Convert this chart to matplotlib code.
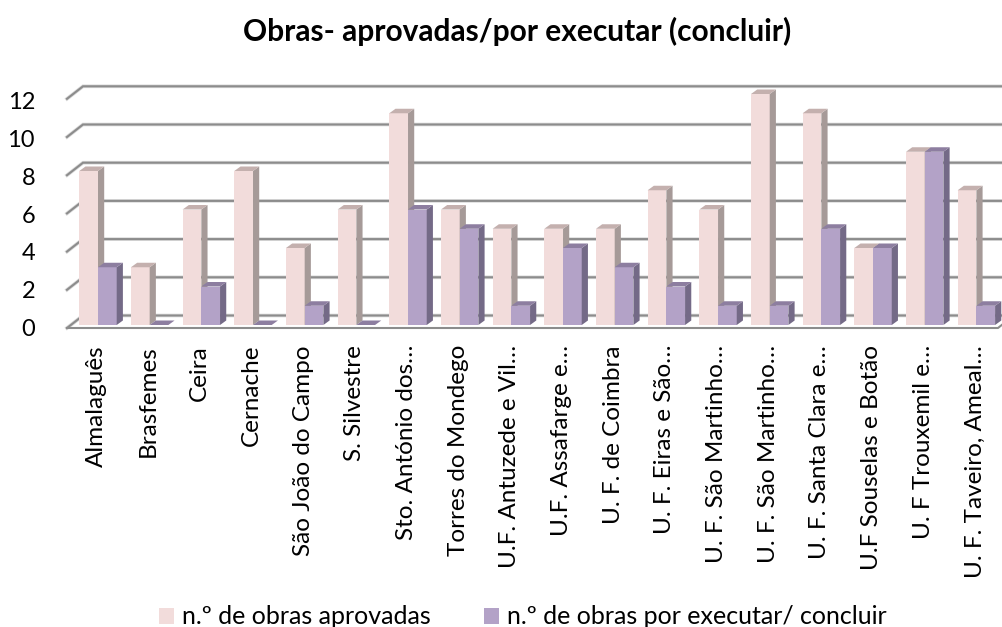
import matplotlib.pyplot as plt
from matplotlib.patches import Polygon, Patch

categorias = ['Almalaguês', 'Brasfemes', 'Ceira', 'Cernache', 'São João do Campo', 'S. Silvestre',
              'Sto. António dos…', 'Torres do Mondego', 'U.F. Antuzede e Vil…', 'U.F. Assafarge e…',
              'U. F. de Coimbra', 'U. F. Eiras e São…', 'U. F. São Martinho…', 'U. F. São Martinho…',
              'U. F. Santa Clara e…', 'U.F Souselas e Botão', 'U. F Trouxemil e…', 'U. F. Taveiro, Ameal…']
aprovadas = [8, 3, 6, 8, 4, 6, 11, 6, 5, 5, 5, 7, 6, 12, 11, 4, 9, 7]
por_executar = [3, 0, 2, 0, 1, 0, 6, 5, 1, 4, 3, 2, 1, 1, 5, 4, 9, 1]
yticks = [0, 2, 4, 6, 8, 10, 12]

plt.rcParams['font.family'] = ['Lato', 'DejaVu Sans']

W, H = 1003, 627
PX_CAT = 51.67   # pixels per category
PX_VAL = 19.25   # pixels per unit
X0, Y0 = 79.3, 325.0

def dx(p):
    return p / PX_CAT

def dy(p):
    return p / PX_VAL

fig = plt.figure(figsize=(W / 100, H / 100), dpi=100, facecolor='white')
ax = fig.add_axes([0, 0, 1, 1])
ax.set_xlim(-X0 / PX_CAT, (W - X0) / PX_CAT)
ax.set_ylim((Y0 - H) / PX_VAL, Y0 / PX_VAL)
ax.axis('off')

grid = '#8c8c8c'
left = dx(67 - X0)
back = dx(83 - X0)
right = dx(W - X0)
floor = dy(-3)
for v in yticks:
    y_front = floor + v * 19.1 / PX_VAL
    y_back = y_front + dy(12.5)
    ax.plot([left, back, right], [y_front, y_back, y_back], color='#d9d9d9', lw=2.6,
            solid_joinstyle='miter', zorder=1)
    ax.plot([left, back, right], [y_front, y_back, y_back], color=grid, lw=1.5,
            solid_joinstyle='miter', zorder=1.1)
    ax.text(dx(35 - X0), dy(-2.5) + v * 18.9 / PX_VAL, str(v), ha='right', va='center_baseline',
            fontsize=17, color='black')
# linha da frente do chao
ax.plot([left, dx(998 - X0), right], [floor, floor, floor + dy(4)], color=grid, lw=1.5, zorder=1.1)

bar_w = 18.7 / PX_CAT
ddx = dx(6.2)
ddy = dy(4.5)

def bar3d(x, v, front, side, top, z):
    ax.bar(x, v, bar_w, align='edge', color=front, zorder=z)
    ax.add_patch(Polygon([(x + bar_w, 0), (x + bar_w + ddx, ddy), (x + bar_w + ddx, v + ddy), (x + bar_w, v)],
                         closed=True, fc=side, ec='none', zorder=z))
    ax.add_patch(Polygon([(x, v), (x + ddx, v + ddy), (x + bar_w + ddx, v + ddy), (x + bar_w, v)],
                         closed=True, fc=top, ec='none', zorder=z))

for i, (a, b) in enumerate(zip(aprovadas, por_executar)):
    z = 2 + i
    bar3d(i, a, '#f2dcdb', '#a69a98', '#c4b0ae', z)
    bar3d(i + bar_w, b, '#b3a2c7', '#746a87', '#8d7ea0', z + 0.5)
    ax.text(i + dx(103 - X0), dy(-20), categorias[i], rotation=90, ha='right', va='baseline',
            rotation_mode='anchor', fontsize=17.5, color='black')

ax.text(dx(517 - X0), dy(Y0 - 31), 'Obras- aprovadas/por executar (concluir)', ha='center', va='center',
        fontsize=21.5, fontweight='bold', color='black')

handles = [Patch(fc='#f2dcdb', ec='none'), Patch(fc='#b3a2c7', ec='none')]
fig.legend(handles, ['n.º de obras aprovadas', 'n.º de obras por executar/ concluir'], ncol=2, frameon=False,
           loc='center', bbox_to_anchor=(523 / W, 1 - 617 / H), fontsize=18, handlelength=0.6, handleheight=0.6,
           handletextpad=0.3, columnspacing=2.15, borderpad=0, borderaxespad=0)

fig.savefig('out.png', dpi=100, facecolor='white')
